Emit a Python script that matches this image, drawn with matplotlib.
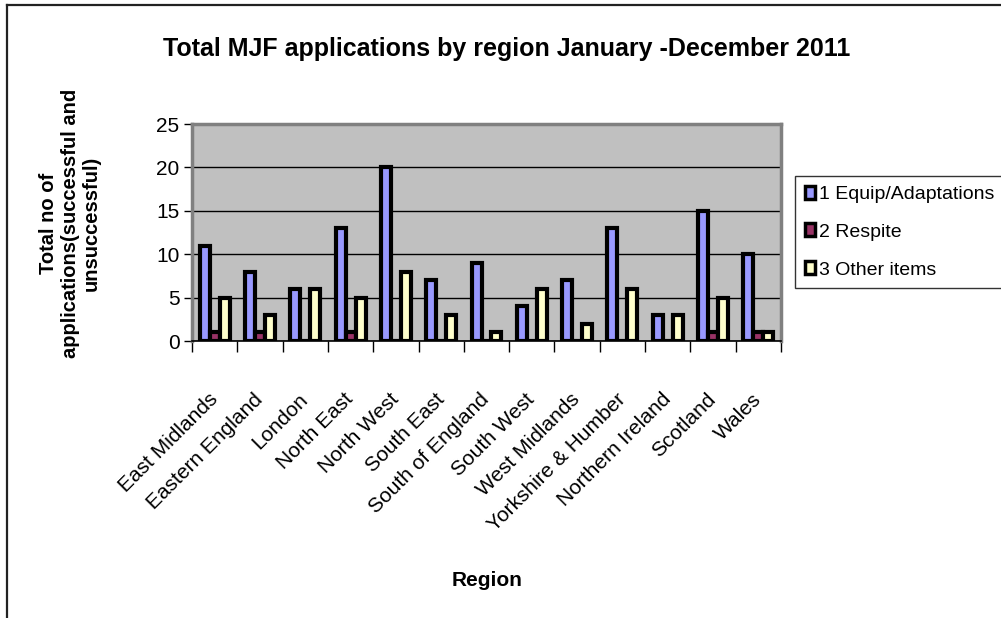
import matplotlib
matplotlib.use("Agg")
import matplotlib.pyplot as plt
import numpy as np
from matplotlib.patches import Patch
from matplotlib.lines import Line2D

regions = ["East Midlands", "Eastern England", "London", "North East", "North West",
           "South East", "South of England", "South West", "West Midlands",
           "Yorkshire & Humber", "Northern Ireland", "Scotland", "Wales"]
equip = [11, 8, 6, 13, 20, 7, 9, 4, 7, 13, 3, 15, 10]
respite = [1, 1, 0, 1, 0, 0, 0, 0, 0, 0, 0, 1, 1]
other = [5, 3, 6, 5, 8, 3, 1, 6, 2, 6, 3, 5, 1]
series_names = ["1 Equip/Adaptations", "2 Respite", "3 Other items"]
series_colors = ["#9999FF", "#993366", "#FFFFCC"]

plt.rcParams['font.family'] = ['Liberation Sans', 'DejaVu Sans']

W, H = 1001, 618
fig = plt.figure(figsize=(W / 100, H / 100), dpi=100)
fig.patch.set_facecolor('white')

def fx(px):
    return px / W

def fy(py):
    return 1 - py / H

ax = fig.add_axes([fx(192), fy(341), fx(781) - fx(192), fy(124) - fy(341)])
ax.set_facecolor('#C0C0C0')

n = len(regions)
x = np.arange(n) + 0.5
bw = 0.22
for i, (vals, col) in enumerate(zip([equip, respite, other], series_colors)):
    ax.bar(x + (i - 1) * bw, vals, width=bw, color=col, edgecolor='black',
           linewidth=3.0, zorder=3 + i)

ax.set_xlim(0, n)
ax.set_ylim(0, 25)
ax.set_yticks([0, 5, 10, 15, 20, 25])
ax.yaxis.grid(True, color='black', linewidth=1.0, zorder=1)
ax.set_axisbelow(True)

ax.set_xticks(np.arange(n + 1))
ax.set_xticklabels([])
ax.set_xticks(x, minor=True)
ax.set_xticklabels(regions, minor=True, rotation=45, ha='right', va='center',
                   rotation_mode='anchor', fontsize=15)
ax.tick_params(axis='x', which='major', direction='out', length=8, width=1, color='black')
ax.tick_params(axis='x', which='minor', length=0, pad=40)
ax.tick_params(axis='y', direction='out', length=6, width=1, labelsize=15, pad=3)

for s in ['top', 'right', 'left']:
    ax.spines[s].set_color('#808080')
    ax.spines[s].set_linewidth(2.5)
ax.spines['bottom'].set_color('black')
ax.spines['bottom'].set_linewidth(1.2)
ax.spines['bottom'].set_zorder(10)

fig.text(fx(507), fy(49), "Total MJF applications by region January -December 2011",
         ha='center', va='center', fontsize=18, fontweight='bold')
fig.text(fx(487), fy(580), "Region", ha='center', va='center', fontsize=15,
         fontweight='bold')
fig.text(fx(70), fy(223), "Total no of\napplications(successful and\nunsuccessful)",
         ha='center', va='center', rotation=90, fontsize=14.5, fontweight='bold',
         multialignment='center', linespacing=1.15)

handles = [Patch(facecolor=c, edgecolor='black', linewidth=2.5) for c in series_colors]
leg = fig.legend(handles, series_names, loc='upper left',
                 bbox_to_anchor=(fx(795), fy(176)), bbox_transform=fig.transFigure,
                 fontsize=14, frameon=True, fancybox=False, borderaxespad=0,
                 handlelength=0.55, handleheight=0.65, handletextpad=0.2,
                 labelspacing=1.05, borderpad=0.5)
leg.get_frame().set_edgecolor('black')
leg.get_frame().set_linewidth(1.0)

fig.add_artist(Line2D([fx(7), fx(7)], [0, fy(5)], transform=fig.transFigure,
                      color='#222222', linewidth=1.6))
fig.add_artist(Line2D([fx(7), 1], [fy(5), fy(5)], transform=fig.transFigure,
                      color='#222222', linewidth=1.6))

fig.savefig("out.png", dpi=100)
